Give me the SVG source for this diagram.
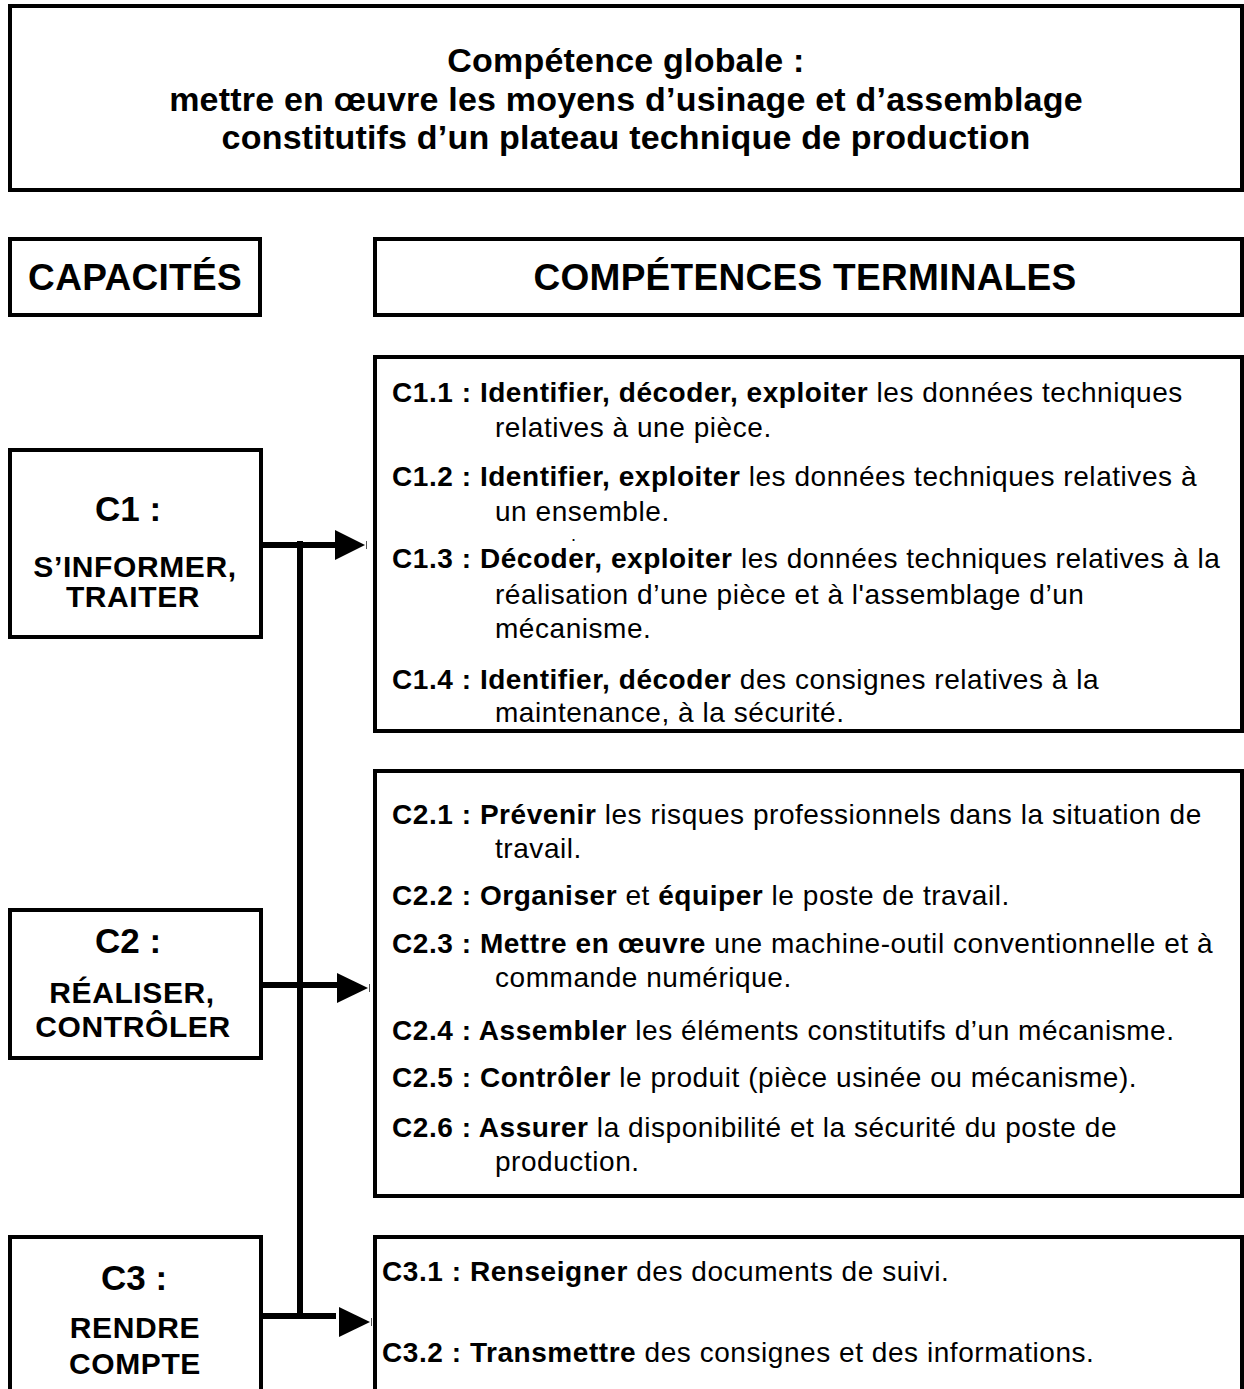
<svg xmlns="http://www.w3.org/2000/svg" width="1244" height="1389" viewBox="0 0 1244 1389">
<style>
.box{fill:none;stroke:#000;stroke-width:4}
.b{font-family:"Liberation Sans",Arial,sans-serif;font-weight:bold;fill:#000}
.t{font-family:"Liberation Sans",Arial,sans-serif;font-size:28px;letter-spacing:0.55px;fill:#000}
.t tspan.k{font-weight:bold}
.title{font-size:34px;letter-spacing:0.2px;text-anchor:middle}
.head{font-size:37px;letter-spacing:0.3px;text-anchor:middle}
.cn{font-size:35px;text-anchor:middle}
.sub{font-size:30px;letter-spacing:0.6px;text-anchor:middle}
.conn{stroke:#000;stroke-width:6;fill:none}
.tick{stroke:#555;stroke-width:1}
</style>
<rect width="1244" height="1389" fill="#fff"/>

<g id="global">
<rect class="box" x="10" y="6" width="1232" height="184"/>
<text class="b title" x="626" y="72">Compétence globale :</text>
<text class="b title" x="626" y="111">mettre en œuvre les moyens d’usinage et d’assemblage</text>
<text class="b title" x="626" y="149">constitutifs d’un plateau technique de production</text>
</g>

<g id="capacites">
<rect class="box" x="10" y="239" width="250" height="76"/>
<text class="b head" x="135" y="290">CAPACITÉS</text>
</g>

<g id="competences">
<rect class="box" x="375" y="239" width="867" height="76"/>
<text class="b head" x="805" y="290">COMPÉTENCES TERMINALES</text>
</g>

<g id="c1">
<rect class="box" x="10" y="450" width="251" height="187"/>
<text class="b cn" x="128" y="521">C1 :</text>
<text class="b sub" x="135" y="577">S’INFORMER,</text>
<text class="b sub" x="133" y="607">TRAITER</text>
</g>

<g id="c2">
<rect class="box" x="10" y="910" width="251" height="148"/>
<text class="b cn" x="128" y="953">C2 :</text>
<text class="b sub" x="132" y="1003">RÉALISER,</text>
<text class="b sub" x="133" y="1037">CONTRÔLER</text>
</g>

<g id="c3">
<path class="box" d="M10,1392 V1237 H261 V1392"/>
<text class="b cn" x="134" y="1290">C3 :</text>
<text class="b sub" x="135" y="1338">RENDRE</text>
<text class="b sub" x="135" y="1374">COMPTE</text>
</g>

<g id="c1-list">
<rect class="box" x="375" y="357" width="867" height="374"/>
<text class="t" x="392" y="402"><tspan class="k">C1.1 : Identifier, décoder, exploiter</tspan> les données techniques</text>
<text class="t" x="495" y="437">relatives à une pièce.</text>
<text class="t" x="392" y="486"><tspan class="k">C1.2 : Identifier, exploiter</tspan> les données techniques relatives à</text>
<text class="t" x="495" y="521">un ensemble.</text>
<text class="t" x="571" y="541" style="font-size:18px">.</text>
<text class="t" x="392" y="568"><tspan class="k">C1.3 : Décoder, exploiter</tspan> les données techniques relatives à la</text>
<text class="t" x="495" y="604">réalisation d’une pièce et à l'assemblage d’un</text>
<text class="t" x="495" y="638">mécanisme.</text>
<text class="t" x="392" y="689"><tspan class="k">C1.4 : Identifier, décoder</tspan> des consignes relatives à la</text>
<text class="t" x="495" y="722">maintenance, à la sécurité.</text>
</g>

<g id="c2-list">
<rect class="box" x="375" y="771" width="867" height="425"/>
<text class="t" x="392" y="824"><tspan class="k">C2.1 : Prévenir</tspan> les risques professionnels dans la situation de</text>
<text class="t" x="495" y="858">travail.</text>
<text class="t" x="392" y="905"><tspan class="k">C2.2 : Organiser</tspan> et <tspan class="k">équiper</tspan> le poste de travail.</text>
<text class="t" x="392" y="953"><tspan class="k">C2.3 : Mettre en œuvre</tspan> une machine-outil conventionnelle et à</text>
<text class="t" x="495" y="987">commande numérique.</text>
<text class="t" x="392" y="1040"><tspan class="k">C2.4 : Assembler</tspan> les éléments constitutifs d’un mécanisme.</text>
<text class="t" x="392" y="1087"><tspan class="k">C2.5 : Contrôler</tspan> le produit (pièce usinée ou mécanisme).</text>
<text class="t" x="392" y="1137"><tspan class="k">C2.6 : Assurer</tspan> la disponibilité et la sécurité du poste de</text>
<text class="t" x="495" y="1171">production.</text>
</g>

<g id="c3-list">
<path class="box" d="M375,1392 V1237 H1242 V1392"/>
<text class="t" x="382" y="1281"><tspan class="k">C3.1 : Renseigner</tspan> des documents de suivi.</text>
<text class="t" x="382" y="1362"><tspan class="k">C3.2 : Transmettre</tspan> des consignes et des informations.</text>
</g>

<g id="connectors">
<path class="conn" d="M300,541 V1319"/>
<path class="conn" d="M261,545 H336"/>
<polygon points="335,530 365,545 335,560" fill="#000"/>
<line class="tick" x1="366.5" y1="541" x2="366.5" y2="549"/>
<path class="conn" d="M261,985 H337"/>
<polygon points="337,973 368,988 337,1003" fill="#000"/>
<line class="tick" x1="369.5" y1="984" x2="369.5" y2="992"/>
<path class="conn" d="M261,1316 H336"/>
<polygon points="339,1307 370,1322 339,1337" fill="#000"/>
<line class="tick" x1="371.5" y1="1318" x2="371.5" y2="1326"/>
</g>
</svg>
